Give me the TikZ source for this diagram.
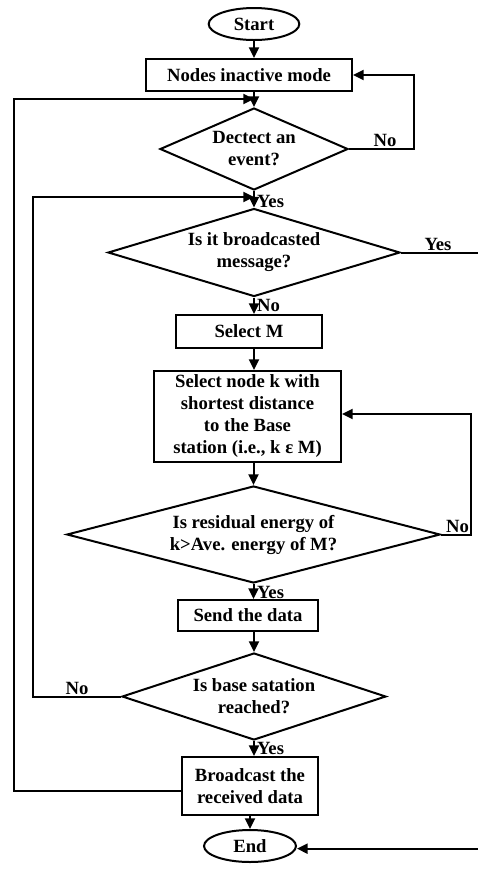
\documentclass[tikz,border=0pt]{standalone}
\usepackage{fontspec}
\setmainfont{Liberation Serif}
\usetikzlibrary{arrows.meta}
\usetikzlibrary{shapes.geometric}

\tikzset{
  box/.style={draw,rectangle,align=center,inner sep=1pt},
  term/.style={draw,ellipse,inner sep=0pt},
  decide/.style={draw,diamond,align=center,inner sep=0pt},
  lbl/.style={inner sep=0.8pt,font=\fontsize{14}{16}\selectfont\bfseries}
}

\begin{document}
\begin{tikzpicture}[line join=miter,>={Triangle[length=8pt,width=7.5pt]},x=0.75pt,y=-0.75pt,line width=1.5pt,
  font=\fontsize{14}{16.5}\selectfont\bfseries]
\useasboundingbox (0,0) rectangle (478,869);

% nodes of the flow
\node[term,minimum width=68pt,minimum height=24pt] (start) at (254,24) {Start};
\node[box,minimum width=154.5pt,minimum height=24pt] (inactive) at (249,75) {Nodes inactive mode};
\node[decide,minimum width=141pt,minimum height=61.5pt,aspect=2.3] (detect) at (254,149) {Dectect an\\event?};
\node[decide,minimum width=219pt,minimum height=66pt,aspect=3.3] (bmsg) at (254,252.5) {Is it broadcasted\\message?};
\node[box,minimum width=109.5pt,minimum height=24.75pt] (selm) at (249,331.5) {Select M};
\node[box,minimum width=140.25pt,minimum height=68.25pt] (selk) at (247.5,416.5) {Select node k with\\shortest distance\\to the Base\\station (i.e., k ε M)};
\node[decide,minimum width=280pt,minimum height=72.75pt,aspect=3.85] (energy) at (253.5,534.5) {Is residual energy of\\k>Ave. energy of M?};
\node[box,minimum width=105pt,minimum height=23.25pt] (send) at (248,615.5) {Send the data};
\node[decide,minimum width=198pt,minimum height=65.25pt,aspect=3] (reach) at (254,696.5) {Is base satation\\reached?};
\node[box,minimum width=102pt,minimum height=43.5pt] (bcast) at (250,786) {Broadcast the\\received data};
\node[term,minimum width=69pt,minimum height=24pt] (end) at (250,846) {End};

% turning points
\coordinate (l1) at (14,99);
\coordinate (l2) at (33,197);
\coordinate (r1) at (414,75);
\coordinate (r2) at (487,252.5);
\coordinate (r3) at (471,414);

% straight down
\draw[->] (start.south) -- (start.south |- inactive.north);
\draw[->] (detect.north |- inactive.south) -- (detect.north);
\draw[->] (detect.south) -- (bmsg.north);
\draw[->] (bmsg.south) -- (bmsg.south |- selm.north);
\draw[->] (bmsg.south |- selm.south) -- (bmsg.south |- selk.north);
\draw[->] (energy.north |- selk.south) -- (energy.north);
\draw[->] (energy.south) -- (energy.south |- send.north);
\draw[->] (reach.north |- send.south) -- (reach.north);
\draw[->] (reach.south) -- (reach.south |- bcast.north);
\draw[->] (bcast.south) -- (end.north);

% loops
\draw[->] (detect.east) -| (r1) -- (inactive.east);
\draw[->] ([yshift=-3.5pt]bcast.west) -| (l1) -- (detect.north |- l1);
\draw[->] (reach.west) -| (l2) -- (bmsg.north |- l2);
\draw[->] (energy.east) -| (r3) -- (selk.east |- r3);
\draw[->] (bmsg.east) -- (r2) |- ([yshift=-2pt]end.east);

% labels
\node[lbl,anchor=south] (n1) at (385,149) {No};
\node[lbl,anchor=west] (y1) at (255,201) {Yes};
\node[lbl,anchor=south] (y2) at (438,252.5) {Yes};
\node[lbl,anchor=west] (n2) at (255,305) {No};
\node[lbl,anchor=south east] (n3) at (471,535) {No};
\node[lbl,anchor=west] (y3) at (255,592) {Yes};
\node[lbl,anchor=south] (n4) at (77,697) {No};
\node[lbl,anchor=west] (y4) at (255,748) {Yes};
\end{tikzpicture}
\end{document}
